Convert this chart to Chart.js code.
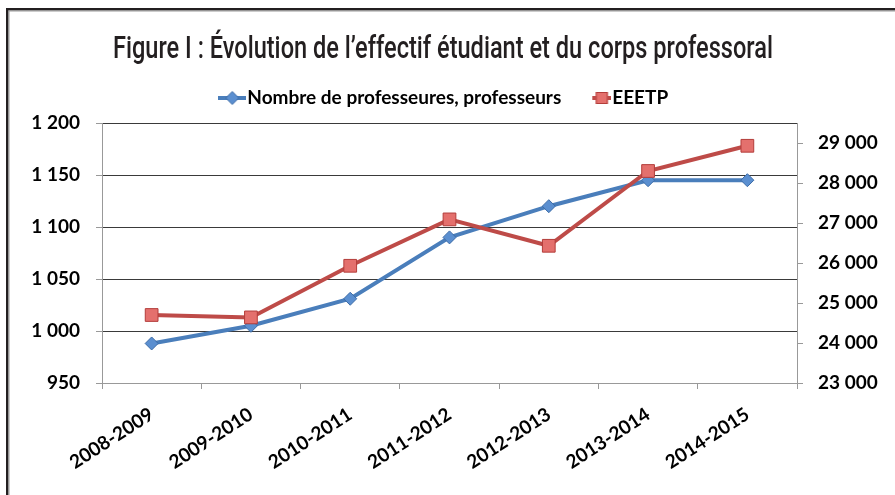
<!DOCTYPE html>
<html>
<head>
<meta charset="utf-8">
<script src="https://cdn.jsdelivr.net/npm/chart.js@4.4.1/dist/chart.umd.min.js"></script>
<style>
  html, body { margin: 0; padding: 0; background: #fff; }
  #wrap { position: relative; width: 895px; height: 495px; }
  canvas { display: block; }
</style>
</head>
<body>
<div id="wrap"><canvas id="c" width="895" height="495"></canvas></div>
<script>
const categories = ['2008-2009', '2009-2010', '2010-2011', '2011-2012', '2012-2013', '2013-2014', '2014-2015'];
const professeurs = [988, 1005, 1031, 1090, 1120, 1145, 1145];
const eeetp = [24700, 24640, 25930, 27090, 26430, 28300, 28930];
const leftTicks = [950, 1000, 1050, 1100, 1150, 1200];
const rightTicks = [23000, 24000, 25000, 26000, 27000, 28000, 29000];
const titleText = 'Figure I : Évolution de l’effectif étudiant et du corps professoral';
const seriesNames = ['Nombre de professeures, professeurs', 'EEETP'];

const BLUE = '#4A7EBB', BLUE_PT = '#5B8FD0', BLUE_BD = '#3D6CA7';
const RED = '#BE4B48', RED_PT = '#E4706D', RED_BD = '#B33D3A';

function fmt(v) {
  return String(v).replace(/\B(?=(\d{3})+(?!\d))/g, ' ');
}

function legendIcon(kind) {
  const cv = document.createElement('canvas');
  cv.width = 28; cv.height = 16;
  const g = cv.getContext('2d');
  g.strokeStyle = kind === 'diamond' ? BLUE : RED;
  g.lineWidth = 4;
  g.beginPath();
  if (kind === 'diamond') { g.moveTo(0, 8); g.lineTo(28, 8); }
  else { g.moveTo(9, 8); g.lineTo(28, 8); }
  g.stroke();
  g.lineWidth = 1;
  if (kind === 'diamond') {
    g.fillStyle = BLUE_PT; g.strokeStyle = BLUE_BD;
    g.beginPath(); g.moveTo(14, 1.5); g.lineTo(20.5, 8); g.lineTo(14, 14.5); g.lineTo(7.5, 8); g.closePath();
    g.fill(); g.stroke();
  } else {
    g.fillStyle = RED_PT; g.strokeStyle = RED_BD;
    g.fillRect(12.5, 2, 12, 12); g.strokeRect(13, 2.5, 11, 11);
  }
  return cv;
}
const icons = [legendIcon('diamond'), legendIcon('square')];

// Title drawn as canvas text, horizontally condensed to mimic the narrow original face
const condensedTitle = {
  id: 'condensedTitle',
  afterDraw(chart, args, opts) {
    const ctx = chart.ctx;
    ctx.save();
    ctx.font = '500 31px Roboto, sans-serif';
    ctx.fillStyle = '#231f20';
    ctx.textBaseline = 'alphabetic';
    ctx.textAlign = 'center';
    const w = ctx.measureText(opts.text).width;
    const sx = opts.width / w;
    ctx.translate(opts.cx, opts.baseline);
    ctx.scale(sx, 1);
    ctx.fillText(opts.text, 0, 0);
    ctx.restore();
  }
};

const framePlugin = {
  id: 'frame',
  beforeDraw(chart) {
    const ctx = chart.ctx;
    ctx.save();
    ctx.fillStyle = '#fff';
    ctx.fillRect(0, 0, chart.width, chart.height);
    ctx.restore();
  },
  afterDraw(chart) {
    const ctx = chart.ctx;
    ctx.save();
    ctx.fillStyle = '#231f20';
    ctx.fillRect(6, 8, chart.width - 6, 2.5);
    ctx.fillRect(6, 8, 2.5, chart.height - 8);
    ctx.fillStyle = '#999';
    ctx.fillRect(8.5, 10.5, chart.width - 8.5, 1);
    ctx.fillRect(8.5, 10.5, 1, chart.height - 10.5);
    ctx.restore();
  }
};

new Chart(document.getElementById('c'), {
  type: 'line',
  data: {
    labels: categories,
    datasets: [
      {
        label: seriesNames[0],
        data: professeurs,
        yAxisID: 'y',
        borderColor: BLUE,
        backgroundColor: BLUE_PT,
        borderWidth: 4,
        pointStyle: 'rectRot',
        pointRadius: 6.5,
        pointBorderColor: BLUE_BD,
        pointBackgroundColor: BLUE_PT,
        pointBorderWidth: 1,
        tension: 0,
        order: 2
      },
      {
        label: seriesNames[1],
        data: eeetp,
        yAxisID: 'y2',
        borderColor: RED,
        backgroundColor: RED_PT,
        borderWidth: 4,
        pointStyle: 'rect',
        pointRadius: 9,
        pointBorderColor: RED_BD,
        pointBackgroundColor: RED_PT,
        pointBorderWidth: 1,
        tension: 0,
        order: 1
      }
    ]
  },
  options: {
    responsive: false,
    animation: false,
    devicePixelRatio: 1,
    layout: { padding: { top: 58, left: 0, right: 0, bottom: 0 } },
    plugins: {
      tooltip: { enabled: false },
      title: { display: false },
      condensedTitle: { text: titleText, cx: 443, baseline: 58, width: 660 },
      subtitle: {
        display: true,
        text: '',
        weight: 500,
        font: { size: 5.5, lineHeight: 1 },
        padding: 0
      },
      legend: {
        display: true,
        position: 'top',
        labels: {
          usePointStyle: true,
          pointStyleWidth: 11,
          padding: 30.5,
          color: '#000',
          font: { family: 'Lato, sans-serif', size: 19, weight: 'bold' },
          generateLabels(chart) {
            return chart.data.datasets.map((ds, i) => ({
              text: ds.label,
              pointStyle: icons[i],
              fillStyle: 'transparent',
              strokeStyle: 'transparent',
              lineWidth: 0,
              datasetIndex: i,
              hidden: false,
              fontColor: '#000'
            }));
          }
        }
      }
    },
    scales: {
      x: {
        type: 'category',
        offset: true,
        afterFit(s) { s.height = 112; },
        grid: { display: true, drawOnChartArea: false, offset: true, color: '#999', tickLength: 6, lineWidth: 1 },
        border: { display: true, color: '#999', width: 1 },
        ticks: {
          color: '#000',
          minRotation: 33, maxRotation: 33,
          padding: 14,
          autoSkip: false,
          font: { family: 'Lato, sans-serif', size: 19, weight: 'bold' }
        }
      },
      y: {
        position: 'left',
        min: 950, max: 1200,
        afterFit(s) { s.width = 102; },
        afterBuildTicks(s) { s.ticks = leftTicks.map(v => ({ value: v })); },
        grid: { color: '#3a3a3a', lineWidth: 1, tickLength: 6, tickColor: '#999', drawTicks: true },
        border: { display: true, color: '#999', width: 1 },
        ticks: {
          color: '#000',
          padding: 16,
          font: { family: 'Lato, sans-serif', size: 19, weight: 'bold' },
          callback: v => fmt(v)
        }
      },
      y2: {
        position: 'right',
        min: 23000, max: 29500,
        afterFit(s) { s.width = 98; },
        afterBuildTicks(s) { s.ticks = rightTicks.map(v => ({ value: v })); },
        grid: { drawOnChartArea: false, color: '#999', tickLength: 6, tickColor: '#999' },
        border: { display: true, color: '#999', width: 1 },
        ticks: {
          color: '#000',
          padding: 15,
          font: { family: 'Lato, sans-serif', size: 19, weight: 'bold' },
          callback: v => fmt(v)
        }
      }
    }
  },
  plugins: [framePlugin, condensedTitle]
});
</script>
</body>
</html>
